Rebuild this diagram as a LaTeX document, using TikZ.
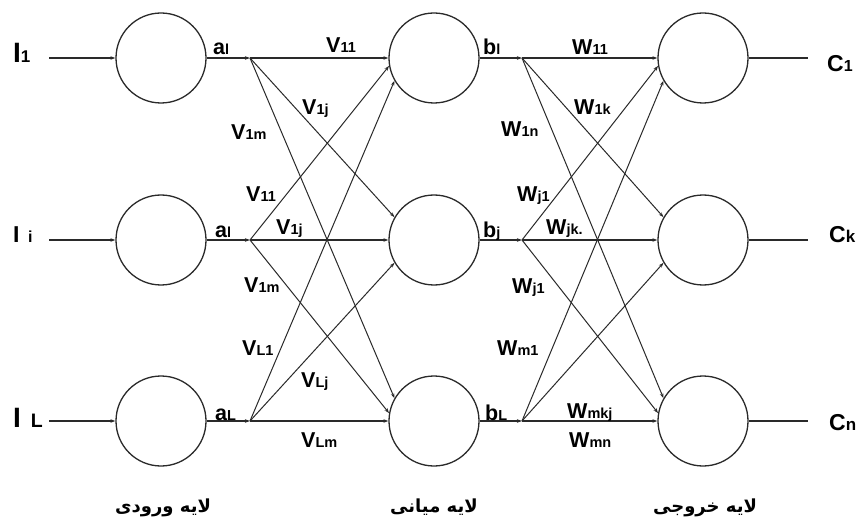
\documentclass[tikz,border=0pt]{standalone}
\usepackage{fontspec}
\setmainfont{Liberation Sans}[BoldFont={Liberation Sans Bold}]
\newfontfamily\arabicfont[Script=Arabic]{DejaVu Sans}
\TeXXeTstate=1
\usetikzlibrary{arrows.meta}
\definecolor{linec}{HTML}{2A2A2A}
\newcommand\wlab[2]{{\fontsize{21.5}{21.5}\selectfont\bfseries #1}{\fontsize{14.5}{14.5}\selectfont\bfseries #2}}
\newcommand\bigI[1]{{\fontsize{#1}{#1}\selectfont\bfseries I}}
\newcommand\smallT[2]{{\fontsize{#1}{#1}\selectfont\bfseries #2}}
\begin{document}
\begin{tikzpicture}[x=1pt,y=-1pt,
  neuron/.style={circle,draw=linec,line width=1.3pt,minimum size=90pt,inner sep=0pt},
  hline/.style={draw=linec,line width=1.7pt},
  tip/.style={-{Stealth[length=5pt,width=3.5pt]}},
  dline/.style={draw=linec,line width=1pt,tip},
  lbl/.style={anchor=base west,inner sep=0pt,text=black,font=\bfseries},
  layer/.style={anchor=base,inner sep=0pt,font={\arabicfont\fontsize{18}{21}\selectfont\bfseries}}]
\useasboundingbox[fill=white] (0,0) rectangle (864,521);

% neurons
\foreach \r/\y in {1/58,2/240,3/421}{
  \node[neuron] (i\r) at (161,\y) {};
  \node[neuron] (h\r) at (434,\y) {};
  \node[neuron] (o\r) at (703,\y) {};
  \coordinate (in\r) at (49,\y);
  \coordinate (fa\r) at (250,\y);
  \coordinate (fb\r) at (522,\y);
  \coordinate (out\r) at (808,\y);
}

% input and output lines
\foreach \r in {1,2,3}{
  \draw[hline,tip] (in\r) -- (i\r.west);
  \draw[hline,tip] (i\r.east) -- (fa\r);
  \draw[hline,tip] (h\r.east) -- (fb\r);
  \draw[hline] (o\r.east) -- (out\r);
  \draw[hline,tip] (fa\r) -- (h\r.west);
  \draw[hline,tip] (fb\r) -- (o\r.west);
}

% input -> hidden connections
\draw[dline] (fa1) -- (h2.150);
\draw[dline] (fa1) -- (h3.150);
\draw[dline] (fa2) -- (h1.190);
\draw[dline] (fa2) -- (h3.170);
\draw[dline] (fa3) -- (h1.210);
\draw[dline] (fa3) -- (h2.210);

% hidden -> output connections
\draw[dline] (fb1) -- (o2.150);
\draw[dline] (fb1) -- (o3.150);
\draw[dline] (fb2) -- (o1.190);
\draw[dline] (fb2) -- (o3.170);
\draw[dline] (fb3) -- (o1.210);
\draw[dline] (fb3) -- (o2.210);

% input labels
\node[lbl] (tI1) at (13,63) {\bigI{28}\smallT{17}{1}};
\node[lbl] (tIi) at (13,243) {\bigI{23}\hspace{8.5pt}\smallT{16}{i}};
\node[lbl] (tIL) at (13,427) {\bigI{28}\hspace{10pt}\smallT{19.5}{L}};

% a labels
\node[lbl] (ta1) at (213,55) {\wlab{a}{l}};
\node[lbl] (ta2) at (215,237) {\wlab{a}{l}};
\node[lbl] (ta3) at (215,420) {\wlab{a}{L}};

% V labels
\node[lbl] (v11a) at (326,53) {\wlab{V}{11}};
\node[lbl] (v1ja) at (302,115) {\wlab{V}{1j}};
\node[lbl] (v1ma) at (231,140) {\wlab{V}{1m}};
\node[lbl] (v11b) at (246,202) {\wlab{V}{11}};
\node[lbl] (v1jb) at (276,235) {\wlab{V}{1j}};
\node[lbl] (v1mb) at (244,292) {\wlab{V}{1m}};
\node[lbl] (vl1) at (242,355) {\wlab{V}{L1}};
\node[lbl] (vlj) at (301,387) {\wlab{V}{Lj}};
\node[lbl] (vlm) at (301,447) {\wlab{V}{Lm}};

% b labels
\node[lbl] (tb1) at (483,55) {\wlab{b}{l}};
\node[lbl] (tb2) at (483,237) {\wlab{b}{j}};
\node[lbl] (tb3) at (485,420) {\wlab{b}{L}};

% W labels
\node[lbl] (w11) at (572,55) {\wlab{W}{11}};
\node[lbl] (w1k) at (574,115) {\wlab{W}{1k}};
\node[lbl] (w1n) at (501,137) {\wlab{W}{1n}};
\node[lbl] (wj1a) at (517,202) {\wlab{W}{j1}};
\node[lbl] (wjk) at (546,235) {\wlab{W}{jk.}};
\node[lbl] (wj1b) at (512,293) {\wlab{W}{j1}};
\node[lbl] (wm1) at (497,355) {\wlab{W}{m1}};
\node[lbl] (wmkj) at (567,418) {\wlab{W}{mkj}};
\node[lbl] (wmn) at (569,447) {\wlab{W}{mn}};

% output labels
\node[lbl] (tc1) at (827,72) {\smallT{23}{C}\smallT{16}{1}};
\node[lbl] (tck) at (829,243) {\smallT{23}{C}\smallT{17}{k}};
\node[lbl] (tcn) at (829,430) {\smallT{23}{C}\smallT{17}{n}};

% layer titles
\node[layer] (lin) at (163,512) {\beginR لایه ورودی\endR};
\node[layer] (lhid) at (434,512) {\beginR لایه میانی\endR};
\node[layer] (lout) at (705,512) {\beginR لایه خروجی\endR};
\end{tikzpicture}
\end{document}
